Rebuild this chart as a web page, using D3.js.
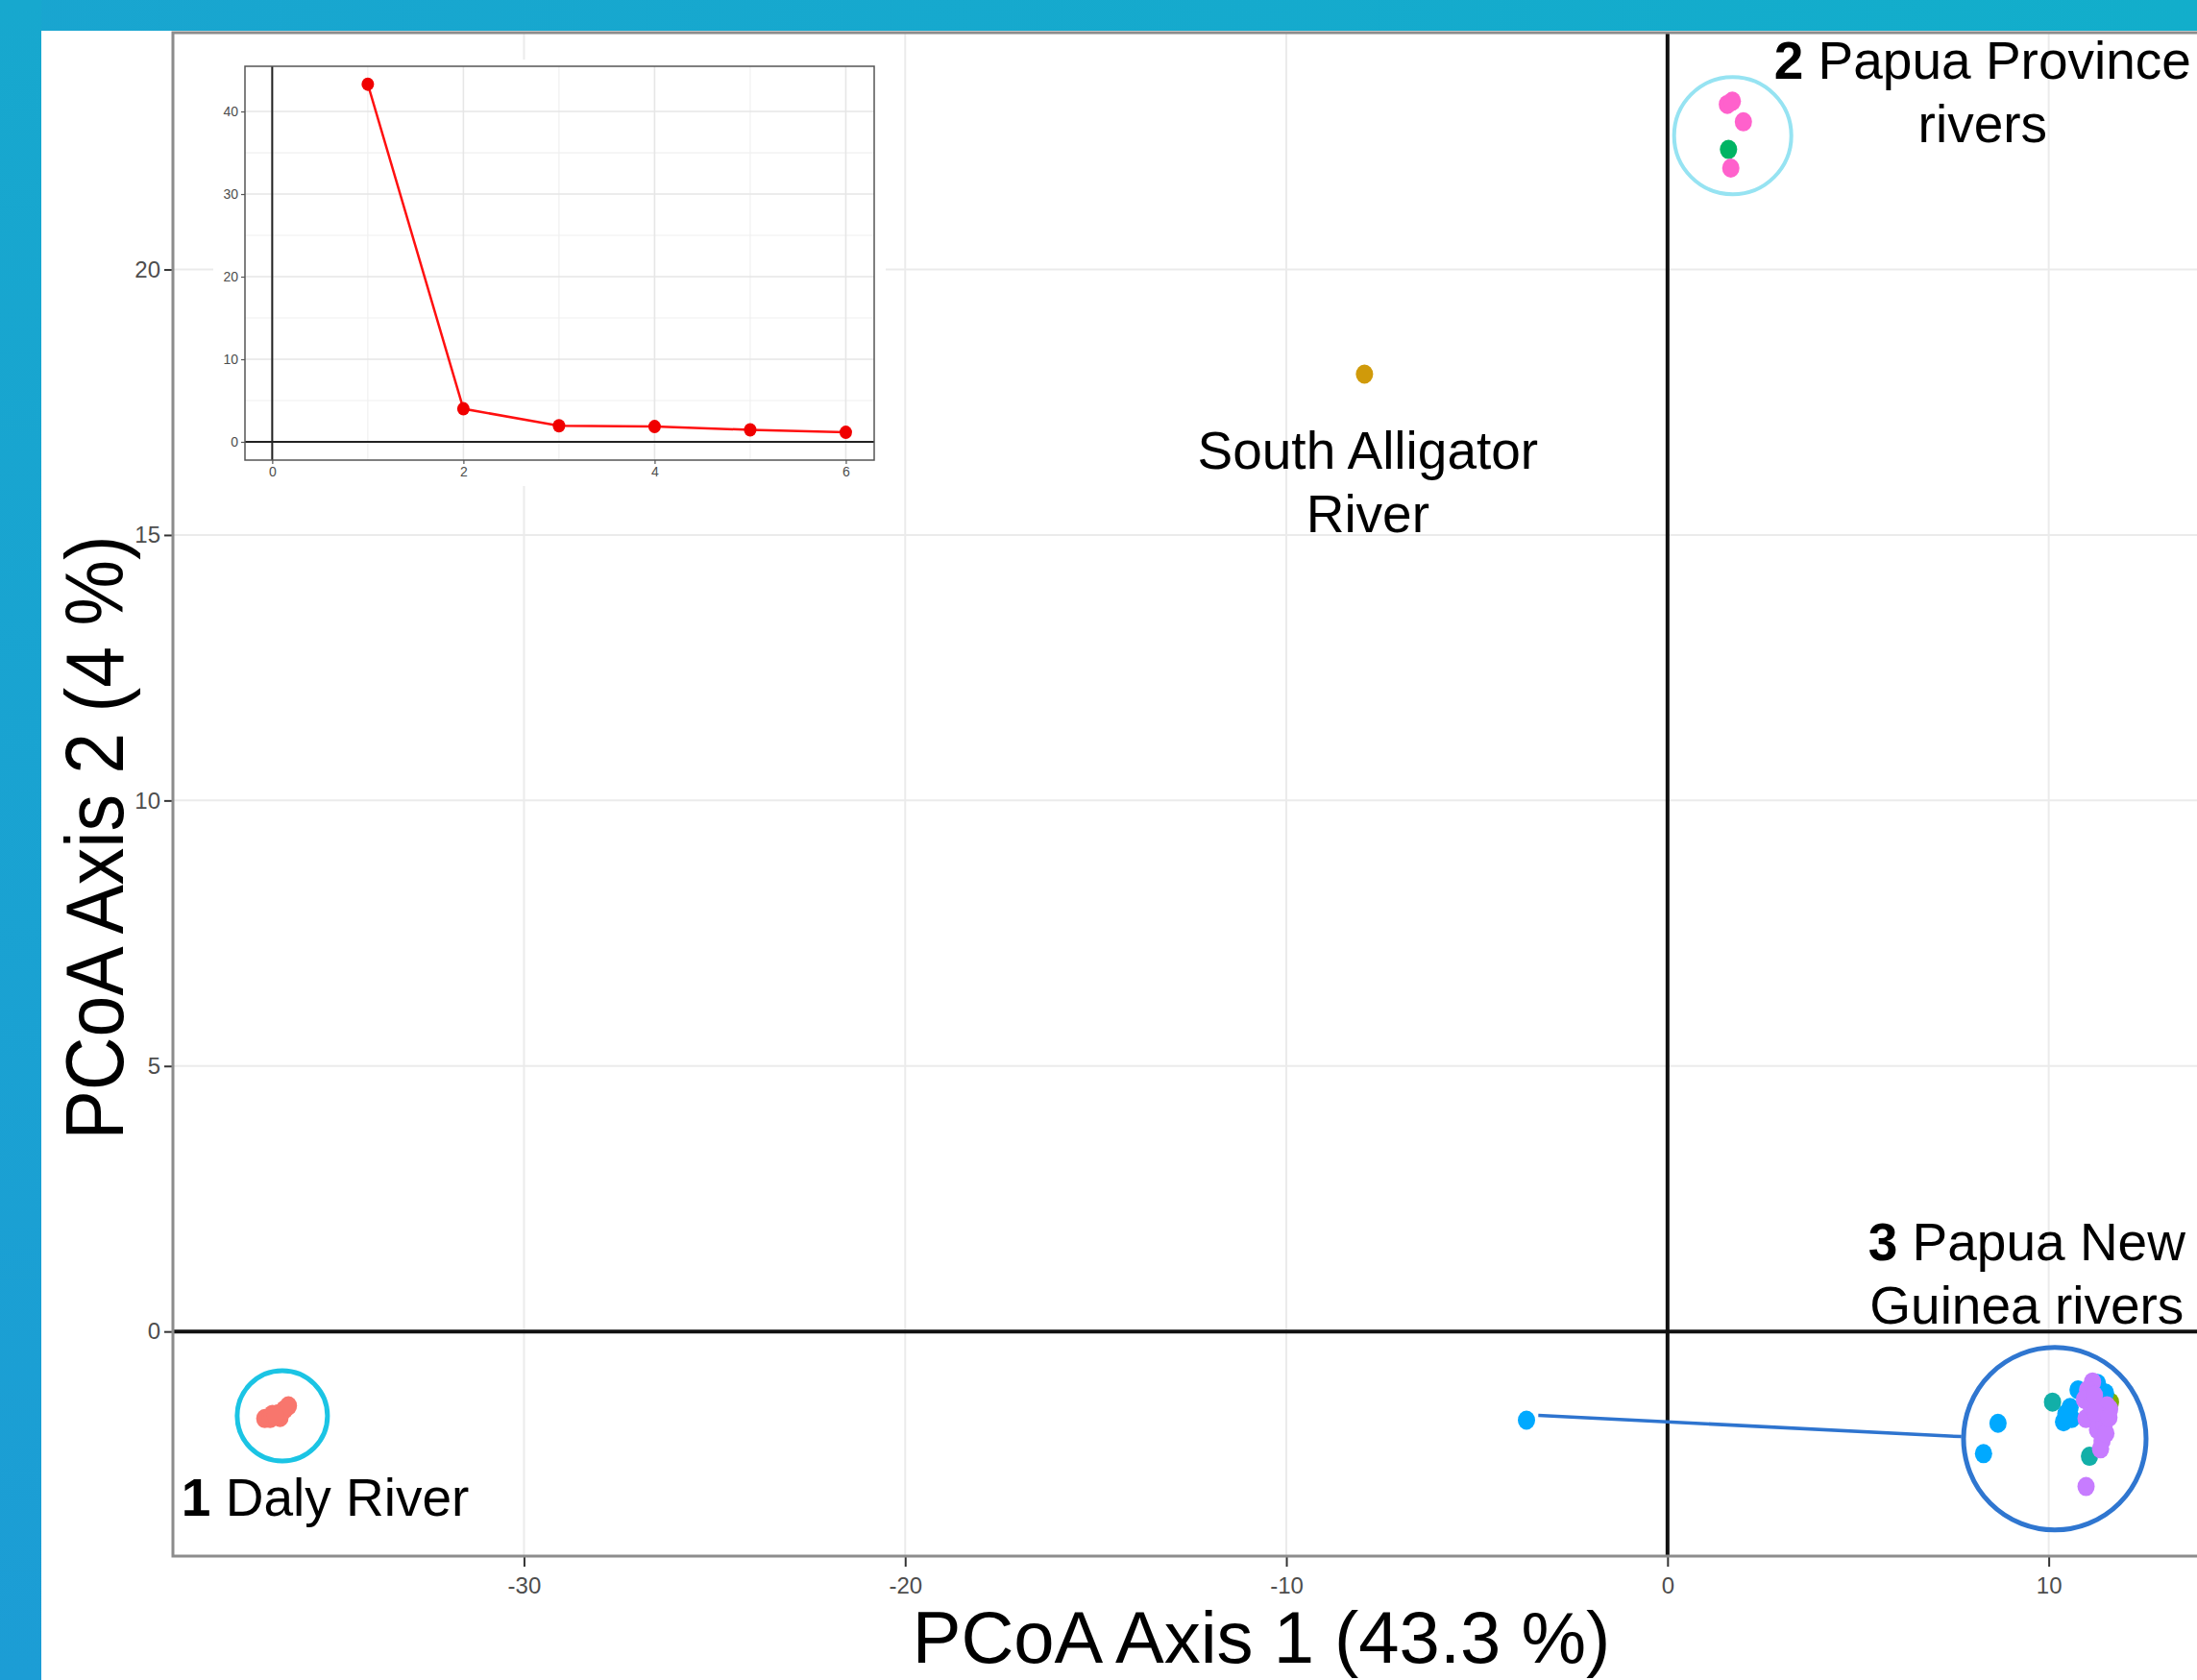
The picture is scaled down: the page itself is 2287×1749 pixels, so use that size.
<!DOCTYPE html>
<html><head><meta charset="utf-8">
<script src="https://cdn.jsdelivr.net/npm/d3@7"></script>
<style>
body{margin:0;background:#fff;}
svg{display:block;}
text{font-family:"Liberation Sans",Arial,Helvetica,sans-serif;}
</style>
</head><body>
<svg id="c" width="2287" height="1749"></svg>
<script>
// ---------------- DATA ----------------
const xTicks = [-30, -20, -10, 0, 10];
const yTicks = [0, 5, 10, 15, 20];
const xTitle = "PCoA Axis 1 (43.3 %)";
const yTitle = "PCoA Axis 2 (4 %)";

// samples per river group (PCoA axis 1, axis 2)
const dalyX = [-36.80, -36.66, -36.60, -36.45, -36.40, -36.28, -36.18, -36.52];
const dalyY = [-1.64, -1.64, -1.56, -1.55, -1.62, -1.47, -1.40, -1.58];
const southAlligatorX = [-7.95];
const southAlligatorY = [18.03];
const papuaGreenX = [1.60];
const papuaGreenY = [22.26];
const papuaPinkX = [1.57, 1.70, 1.99, 1.66];
const papuaPinkY = [23.11, 23.17, 22.78, 21.91];
const pngOliveX = [11.62];
const pngOliveY = [-1.33];
const pngBlueX = [-3.70, 8.67, 8.29, 10.39, 10.56, 10.77, 11.28, 11.49, 10.60, 10.45];
const pngBlueY = [-1.67, -1.73, -2.30, -1.70, -1.43, -1.10, -0.98, -1.16, -1.64, -1.55];
const pngTealX = [10.10, 11.07];
const pngTealY = [-1.33, -2.35];
const pngPurpleX = [10.98, 11.15, 11.02, 10.94, 11.60, 10.98, 11.36, 11.28, 11.40, 11.36, 11.53, 11.11, 11.20, 11.45, 11.22, 11.50, 11.58];
const pngPurpleY = [-2.92, -0.95, -1.10, -1.28, -1.46, -1.64, -1.58, -1.85, -2.06, -2.21, -1.40, -1.40, -1.20, -1.75, -1.52, -1.92, -1.62];

// inset scree plot: % variance explained by each axis
const screeAxis = [1, 2, 3, 4, 5, 6];
const screeVar = [43.3, 4.0, 1.95, 1.85, 1.45, 1.15];
const screeXTicks = [0, 2, 4, 6];
const screeYTicks = [0, 10, 20, 30, 40];

// annotation circles (data units) and labels
const ringNames = ["daly", "papua", "png"];
const ringX = [-36.34, 1.71, 10.16];
const ringY = [-1.59, 22.52, -2.02];
const linkX = [-3.39, 7.71];
const linkY = [-1.58, -1.98];

const labelNum = ["2", "", "3", "1"];
const labelLines = [["Papua Province", "rivers"], ["South Alligator", "River"], ["Papua New", "Guinea rivers"], ["Daly River"]];
const labelX = [8.266, -7.863, 9.425, -38.987];
const labelY = [23.589, 16.239, 1.344, -3.479];

// ---------------- DRAW ----------------
const W = 2287, H = 1749;
const svg = d3.select("#c");
const defs = svg.append("defs");
const gTop = defs.append("linearGradient").attr("id", "gTop").attr("x1", 0).attr("x2", 1).attr("y1", 0).attr("y2", 0);
gTop.append("stop").attr("offset", "0%").attr("stop-color", "#19a5d0");
gTop.append("stop").attr("offset", "100%").attr("stop-color", "#12aecb");
const gLeft = defs.append("linearGradient").attr("id", "gLeft").attr("x1", 0).attr("x2", 0).attr("y1", 0).attr("y2", 1);
gLeft.append("stop").attr("offset", "0%").attr("stop-color", "#17a8ce");
gLeft.append("stop").attr("offset", "100%").attr("stop-color", "#1c9dd5");

svg.append("rect").attr("width", W).attr("height", H).attr("fill", "#fff");
svg.append("rect").attr("x", 0).attr("y", 0).attr("width", W).attr("height", 32).attr("fill", "url(#gTop)");
svg.append("rect").attr("x", 0).attr("y", 0).attr("width", 43).attr("height", H).attr("fill", "url(#gLeft)");

const P = {l: 180, t: 34, r: 2310, b: 1620};
const x = d3.scaleLinear().domain([-39.21, 14.47]).range([P.l, P.r]);
const y = d3.scaleLinear().domain([-4.23, 24.46]).range([P.b, P.t]);

defs.append("clipPath").attr("id", "clip").append("rect")
  .attr("x", P.l).attr("y", P.t).attr("width", P.r - P.l).attr("height", P.b - P.t);

const g = svg.append("g").attr("clip-path", "url(#clip)");
g.selectAll(".gx").data(xTicks).join("line")
  .attr("x1", d => x(d)).attr("x2", d => x(d)).attr("y1", P.t).attr("y2", P.b)
  .attr("stroke", "#ebebeb").attr("stroke-width", 2);
g.selectAll(".gy").data(yTicks).join("line")
  .attr("y1", d => y(d)).attr("y2", d => y(d)).attr("x1", P.l).attr("x2", P.r)
  .attr("stroke", "#ebebeb").attr("stroke-width", 2);
// zero lines
g.append("line").attr("x1", x(0)).attr("x2", x(0)).attr("y1", P.t).attr("y2", P.b)
  .attr("stroke", "#111").attr("stroke-width", 4);
g.append("line").attr("y1", y(0)).attr("y2", y(0)).attr("x1", P.l).attr("x2", P.r)
  .attr("stroke", "#111").attr("stroke-width", 4);

// axes
const ax = svg.append("g").attr("transform", `translate(0,${P.b + 1})`)
  .call(d3.axisBottom(x).tickValues(xTicks).tickSize(10).tickPadding(11).tickFormat(d => String(d)));
const ay = svg.append("g").attr("transform", `translate(${P.l - 1},0)`)
  .call(d3.axisLeft(y).tickValues(yTicks).tickSize(8).tickPadding(4).tickFormat(d => String(d)));
[ax, ay].forEach(a => {
  a.select(".domain").remove();
  a.selectAll(".tick line").attr("stroke", "#333").attr("stroke-width", 2);
  a.selectAll(".tick text").attr("fill", "#4d4d4d").attr("font-size", 24)
    .style("font-family", '"Liberation Sans",Arial,sans-serif');
});

// panel border
svg.append("rect").attr("x", P.l).attr("y", P.t).attr("width", P.r - P.l).attr("height", P.b - P.t)
  .attr("fill", "none").attr("stroke", "#8c8c8c").attr("stroke-width", 3);

// ---------------- INSET ----------------
const IP = {l: 255, t: 69, r: 910, b: 479};
svg.append("rect").attr("x", 222).attr("y", 62).attr("width", 700).attr("height", 444).attr("fill", "#fff");
const ix = d3.scaleLinear().domain([-0.285, 6.297]).range([IP.l, IP.r]);
const iy = d3.scaleLinear().domain([-2.21, 45.47]).range([IP.b, IP.t]);
const ig = svg.append("g");
const minorX = d3.range(1, 6, 2), minorY = d3.range(5, 45, 10);
ig.selectAll(".mx").data(minorX).join("line")
  .attr("x1", d => ix(d)).attr("x2", d => ix(d)).attr("y1", IP.t).attr("y2", IP.b)
  .attr("stroke", "#f0f0f0").attr("stroke-width", 1.2);
ig.selectAll(".my").data(minorY).join("line")
  .attr("y1", d => iy(d)).attr("y2", d => iy(d)).attr("x1", IP.l).attr("x2", IP.r)
  .attr("stroke", "#f0f0f0").attr("stroke-width", 1.2);
ig.selectAll(".jx").data(screeXTicks).join("line")
  .attr("x1", d => ix(d)).attr("x2", d => ix(d)).attr("y1", IP.t).attr("y2", IP.b)
  .attr("stroke", "#e6e6e6").attr("stroke-width", 1.6);
ig.selectAll(".jy").data(screeYTicks).join("line")
  .attr("y1", d => iy(d)).attr("y2", d => iy(d)).attr("x1", IP.l).attr("x2", IP.r)
  .attr("stroke", "#e6e6e6").attr("stroke-width", 1.6);
ig.append("line").attr("x1", ix(0)).attr("x2", ix(0)).attr("y1", IP.t).attr("y2", IP.b)
  .attr("stroke", "#222").attr("stroke-width", 2);
ig.append("line").attr("y1", iy(0)).attr("y2", iy(0)).attr("x1", IP.l).attr("x2", IP.r)
  .attr("stroke", "#222").attr("stroke-width", 2);
ig.append("rect").attr("x", IP.l).attr("y", IP.t).attr("width", IP.r - IP.l).attr("height", IP.b - IP.t)
  .attr("fill", "none").attr("stroke", "#555").attr("stroke-width", 1.5);
const scree = screeAxis.map((a, i) => [a, screeVar[i]]);
ig.append("path").datum(scree)
  .attr("d", d3.line().x(d => ix(d[0])).y(d => iy(d[1])))
  .attr("fill", "none").attr("stroke", "#ff1010").attr("stroke-width", 2.5);
ig.selectAll(".sp").data(scree).join("ellipse")
  .attr("cx", d => ix(d[0])).attr("cy", d => iy(d[1])).attr("rx", 6.5).attr("ry", 7)
  .attr("fill", "#f00000");
const iax = ig.append("g").attr("transform", `translate(0,${IP.b})`)
  .call(d3.axisBottom(ix).tickValues(screeXTicks).tickSize(4).tickPadding(3).tickFormat(d => String(d)));
const iay = ig.append("g").attr("transform", `translate(${IP.l},0)`)
  .call(d3.axisLeft(iy).tickValues(screeYTicks).tickSize(4).tickPadding(3).tickFormat(d => String(d)));
[iax, iay].forEach(a => {
  a.select(".domain").remove();
  a.selectAll(".tick line").attr("stroke", "#555").attr("stroke-width", 1.2);
  a.selectAll(".tick text").attr("fill", "#4d4d4d").attr("font-size", 14)
    .style("font-family", '"Liberation Sans",Arial,sans-serif');
});

// ---------------- ANNOTATIONS ----------------
const ringR = [47, 61, 95];
const ringW = [5, 4, 5];
const ringC = ["#1bc4e4", "#96e3f2", "#2f76d0"];
svg.selectAll(".ring").data(ringNames).join("circle")
  .attr("cx", (d, i) => x(ringX[i])).attr("cy", (d, i) => y(ringY[i]))
  .attr("r", (d, i) => ringR[i]).attr("fill", "none")
  .attr("stroke", (d, i) => ringC[i]).attr("stroke-width", (d, i) => ringW[i]);
svg.append("line").attr("x1", x(linkX[0])).attr("y1", y(linkY[0]))
  .attr("x2", x(linkX[1])).attr("y2", y(linkY[1]))
  .attr("stroke", "#2e74cf").attr("stroke-width", 3.5);

// ---------------- POINTS ----------------
const series = [
  {xs: dalyX, ys: dalyY, c: "#f8766d"},
  {xs: southAlligatorX, ys: southAlligatorY, c: "#d09a0a"},
  {xs: papuaGreenX, ys: papuaGreenY, c: "#00b463"},
  {xs: papuaPinkX, ys: papuaPinkY, c: "#ff61cc"},
  {xs: pngOliveX, ys: pngOliveY, c: "#7cae00"},
  {xs: pngBlueX, ys: pngBlueY, c: "#00a9ff"},
  {xs: pngTealX, ys: pngTealY, c: "#12afa8"},
  {xs: pngPurpleX, ys: pngPurpleY, c: "#c77cff"}
];
const pg = svg.append("g");
series.forEach(s => {
  const pts = s.xs.map((v, i) => [v, s.ys[i]]);
  pg.append("g").selectAll("ellipse").data(pts).join("ellipse")
    .attr("cx", d => x(d[0])).attr("cy", d => y(d[1]))
    .attr("rx", 9).attr("ry", 10).attr("fill", s.c);
});

// ---------------- LABELS ----------------
const lineH = 66;
labelLines.forEach((lines, i) => {
  const anchor = i === 3 ? "start" : "middle";
  lines.forEach((ln, j) => {
    const t = svg.append("text").attr("x", x(labelX[i])).attr("y", y(labelY[i]) + j * lineH)
      .attr("text-anchor", anchor).attr("font-size", 55).attr("fill", "#000");
    if (j === 0 && labelNum[i]) {
      t.append("tspan").attr("font-weight", "bold").text(labelNum[i]);
      t.append("tspan").text(" " + ln);
    } else {
      t.text(ln);
    }
  });
});

// axis titles
svg.append("text").attr("x", 1313).attr("y", 1731).attr("text-anchor", "middle")
  .attr("font-size", 76).attr("fill", "#000").text(xTitle);
svg.append("text").attr("transform", "translate(128,872) rotate(-90) scale(1,1.1)")
  .attr("text-anchor", "middle").attr("font-size", 77).attr("fill", "#000").text(yTitle);
</script>
</body></html>
